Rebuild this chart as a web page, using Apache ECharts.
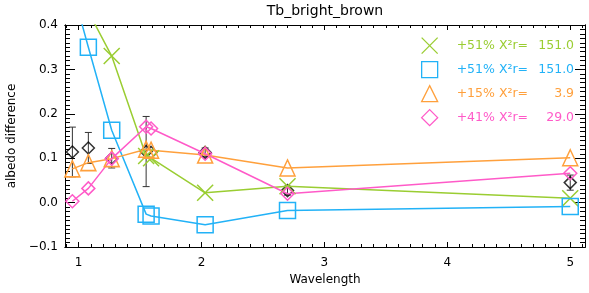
<!DOCTYPE html>
<html lang="en">
<head>
    <meta charset="UTF-8">
    <title>Tb_bright_brown</title>
    <script src="https://cdn.jsdelivr.net/npm/echarts@6/dist/echarts.min.js"></script>
    <style>
        html, body { margin: 0; padding: 0; background: #fff; }
        #chart1 { width: 589px; height: 293px; }
    </style>
</head>
<body>
<div id="chart1"></div>

<script type="text/javascript">
    // wavelengths (x) shared by every series
    var wl = [0.95, 1.08, 1.27, 1.55, 1.59, 2.03, 2.70, 5.00];

    // model curves
    var green  = [0.50, 0.43, 0.33, 0.105, 0.100, 0.022, 0.037, 0.010];
    var blue   = [0.48, 0.35, 0.163, -0.026, -0.030, -0.050, -0.018, -0.009];
    var orange = [0.076, 0.090, 0.099, 0.120, 0.118, 0.107, 0.078, 0.101];
    var pink   = [0.003, 0.032, 0.099, 0.171, 0.167, 0.110, 0.020, 0.066];

    // observed points and their errors
    var obs    = [0.114, 0.123, 0.100, 0.115, 0.113, 0.113, 0.027, 0.045];
    var obsErr = [0.056, 0.035, 0.022, 0.079, 0, 0.010, 0.010, 0.017];

    // legend texts
    var legendPct = ['+51%', '+51%', '+15%', '+41%'];
    var legendChi = ['151.0', '151.0', '3.9', '29.0'];

    // tick positions
    var xMajor = [1, 2, 3, 4, 5];
    var yMajor = [-0.1, 0, 0.1, 0.2, 0.3, 0.4];
    var xMinor = [];
    for (var t = 9; t <= 51; t++) xMinor.push(t / 10);
    var yMinor = [];
    for (var k = -10; k <= 40; k++) yMinor.push(k / 100);

    var cGreen = '#9acd32', cBlue = '#22b2f7', cOrange = '#ffa03c', cPink = '#ff5ac8';
    var names = ['fit1', 'fit2', 'fit3', 'fit4'];
    var FONT = 'DejaVu Sans';
    var NONE = 'rgba(0,0,0,0)';
    var GRID = { left: 65, right: 4, top: 25, bottom: 46, containLabel: false, outerBoundsMode: 'none' };

    function pairs(ys) {
        return wl.map(function (w, i) { return [w, ys[i]]; });
    }

    function fitSeries(name, ys, color, symbol, size) {
        return {
            name: name,
            type: 'line',
            data: pairs(ys),
            symbol: symbol,
            symbolSize: size,
            showAllSymbol: true,
            lineStyle: { color: color, width: 1.5 },
            itemStyle: { color: NONE, borderColor: color, borderWidth: 1.5 },
            emphasis: { disabled: true },
            animation: false
        };
    }

    var X_PATH = 'path://M0,0L16,16M16,0L0,16';

    // grid 0 carries the major ticks, grid 1 (same box) the minor ones
    function xAxisDef(grid, pos, values, len, main) {
        var ax = {
            type: 'value', min: 0.89, max: 5.12,
            gridIndex: grid,
            position: pos,
            splitLine: { show: false },
            axisLine: { show: true, onZero: false, lineStyle: { color: '#000', width: 1 } },
            axisTick: { show: true, inside: true, length: len, customValues: values, lineStyle: { color: '#000' } },
            axisLabel: { show: true, customValues: xMajor, margin: 10, color: main ? '#000' : NONE, fontSize: 12, fontFamily: FONT }
        };
        if (main) {
            ax.name = 'Wavelength';
            ax.nameLocation = 'middle';
            ax.nameGap = 24;
            ax.nameTextStyle = { color: '#000', fontSize: 12, fontFamily: FONT };
        }
        return ax;
    }
    function yAxisDef(grid, pos, values, len, main) {
        var ax = {
            type: 'value', min: -0.1, max: 0.4,
            gridIndex: grid,
            position: pos,
            splitLine: { show: false },
            axisLine: { show: true, onZero: false, lineStyle: { color: '#000', width: 1 } },
            axisTick: { show: true, inside: true, length: len, customValues: values, lineStyle: { color: '#000' } },
            axisLabel: {
                show: true, customValues: yMajor, margin: 7, color: main ? '#000' : NONE, fontSize: 12, fontFamily: FONT,
                formatter: function (v) { return v.toFixed(1).replace('-', '\u2212'); }
            }
        };
        if (main) {
            ax.name = 'albedo difference';
            ax.nameLocation = 'middle';
            ax.nameGap = 41;
            ax.nameTextStyle = { color: '#000', fontSize: 12, fontFamily: FONT };
        }
        return ax;
    }

    var myChart1 = echarts.init(document.getElementById('chart1'), null, { renderer: 'canvas' });

    myChart1.setOption({
        animation: false,
        backgroundColor: '#fff',
        title: {
            text: 'Tb_bright_brown',
            left: 325, top: 4, padding: 0,
            textAlign: 'center',
            textStyle: { color: '#000', fontSize: 14, fontWeight: 'normal', fontFamily: FONT }
        },
        grid: [Object.assign({}, GRID), Object.assign({}, GRID)],
        legend: {
            orient: 'vertical',
            left: 421, top: 37, padding: 0,
            itemWidth: 16, itemHeight: 16, itemGap: 6.7,
            selectedMode: false,
            formatter: function (name) {
                var i = names.indexOf(name);
                return '{a|' + legendPct[i] + ' X\u00b2r=}{b|' + legendChi[i] + '}';
            },
            textStyle: {
                fontFamily: FONT, fontSize: 12.5,
                rich: {
                    a: { fontFamily: FONT, fontSize: 12.5, padding: [0, 0, 0, 14] },
                    b: { fontFamily: FONT, fontSize: 12.5, width: 46, align: 'right' }
                }
            },
            data: [
                { name: 'fit1', icon: X_PATH, itemStyle: { color: NONE, borderColor: cGreen, borderWidth: 1.3 }, textStyle: { color: cGreen } },
                { name: 'fit2', icon: 'rect', itemStyle: { color: NONE, borderColor: cBlue, borderWidth: 1.3 }, textStyle: { color: cBlue } },
                { name: 'fit3', icon: 'triangle', itemStyle: { color: NONE, borderColor: cOrange, borderWidth: 1.3 }, textStyle: { color: cOrange } },
                { name: 'fit4', icon: 'diamond', itemStyle: { color: NONE, borderColor: cPink, borderWidth: 1.3 }, textStyle: { color: cPink } }
            ]
        },
        xAxis: [
            xAxisDef(0, 'bottom', xMajor, 5, true),
            xAxisDef(0, 'top', xMajor, 5, false),
            xAxisDef(1, 'bottom', xMinor, 3, false),
            xAxisDef(1, 'top', xMinor, 3, false)
        ],
        yAxis: [
            yAxisDef(0, 'left', yMajor, 10, true),
            yAxisDef(0, 'right', yMajor, 10, false),
            yAxisDef(1, 'left', yMinor, 5, false),
            yAxisDef(1, 'right', yMinor, 5, false)
        ],
        series: [
            fitSeries('fit1', green, cGreen, X_PATH, 16),
            fitSeries('fit2', blue, cBlue, 'rect', 16),
            fitSeries('fit3', orange, cOrange, 'triangle', [15, 16]),
            fitSeries('fit4', pink, cPink, 'diamond', 13),
            {
                name: 'err',
                type: 'custom',
                data: wl.map(function (w, i) { return [w, obs[i] - obsErr[i], obs[i] + obsErr[i]]; }),
                encode: { x: 0, y: [1, 2] },
                renderItem: function (params, api) {
                    if (api.value(1) === api.value(2)) return null;
                    var lo = api.coord([api.value(0), api.value(1)]);
                    var hi = api.coord([api.value(0), api.value(2)]);
                    var st = { stroke: '#333', lineWidth: 1 };
                    return {
                        type: 'group',
                        children: [
                            { type: 'line', shape: { x1: lo[0], y1: lo[1], x2: hi[0], y2: hi[1] }, style: st },
                            { type: 'line', shape: { x1: lo[0] - 3.5, y1: lo[1], x2: lo[0] + 3.5, y2: lo[1] }, style: st },
                            { type: 'line', shape: { x1: hi[0] - 3.5, y1: hi[1], x2: hi[0] + 3.5, y2: hi[1] }, style: st }
                        ]
                    };
                },
                animation: false
            },
            {
                name: 'obs',
                type: 'scatter',
                data: pairs(obs),
                symbol: 'diamond',
                symbolSize: 12,
                itemStyle: { color: NONE, borderColor: '#000', borderWidth: 1.5 },
                emphasis: { disabled: true },
                animation: false
            }
        ]
    });
</script>
</body>
</html>
